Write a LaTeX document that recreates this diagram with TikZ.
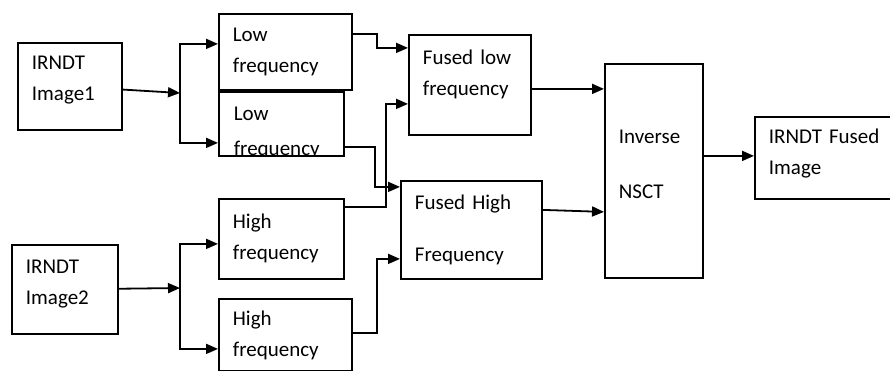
\documentclass[tikz,border=0pt]{standalone}
\usepackage{fontspec}
\setmainfont{Carlito}
\usepackage{tikz}
\usetikzlibrary{arrows.meta,positioning}
\tikzstyle{arrow}=[-{Triangle[length=12pt,width=10pt]},line width=1.8pt]
\tikzstyle{blk}=[rectangle,draw,line width=1.8pt,anchor=north west,align=left,
                 inner xsep=14pt,inner ysep=0pt,font=\fontsize{21}{31}\selectfont]

\begin{document}
\begin{tikzpicture}[x=1pt,y=-1pt]
      \useasboundingbox (0,0) rectangle (890,371);
      \clip (0,0) rectangle (890,371);
      \node[blk,minimum width=104pt,minimum height=87pt,text width=76pt,text depth=47pt] (img1) at (17,42) {IRNDT\\Image1};
      \node[blk,minimum width=106pt,minimum height=89pt,text width=78pt,text depth=45pt] (img2) at (11,244) {IRNDT\\Image2};
      \node[blk,minimum width=133pt,minimum height=76pt,text width=105pt] (low1) at (218,13) {Low\\frequency};
      \node[blk,minimum width=125pt,minimum height=64pt,
            path picture={\node[anchor=north west,align=left,inner xsep=14pt,inner ysep=14pt,
                                text width=97pt,font=\fontsize{21}{31}\selectfont]
                          at (path picture bounding box.north west) {Low\\[4pt]frequency};}] (low2) at (218,91) {};
      \node[blk,minimum width=125pt,minimum height=80pt,text width=97pt] (high1) at (218,198) {High\\frequency};
      \node[blk,minimum width=133pt,minimum height=72pt,text width=105pt] (high2) at (218,298) {High\\frequency};
      \node[blk,minimum width=122pt,minimum height=100pt,text width=94pt,text depth=55pt] (fl) at (408,34) {Fused low\\frequency};
      \node[blk,minimum width=141pt,minimum height=98pt,text width=113pt] (fh) at (400,180) {Fused High\\[21pt]Frequency};
      \node[blk,minimum width=98pt,minimum height=214pt,text width=70pt,text depth=69pt] (nsct) at (604,63) {Inverse\\[24pt]NSCT};
      \node[blk,minimum width=150pt,minimum height=82pt,text width=122pt,text depth=43pt] (out) at (754,116) {IRNDT Fused\\Image};

      \coordinate (j1) at (180,93);
      \coordinate (j2) at (180,288);

      \draw[arrow] (img1)--(j1);
      \draw[arrow] (j1) |- ([yshift=8pt]low1.west);
      \draw[arrow] (j1) |- ([yshift=-19pt]low2.west);
      \draw[arrow] (img2)--(j2);
      \draw[arrow] (j2) |- ([yshift=-5pt]high1.west);
      \draw[arrow] (j2) |- ([yshift=-14pt]high2.west);

      \draw[arrow] ([yshift=18pt]low1.east) -- ++(24,0) |- ([yshift=37pt]fl.west);
      \draw[arrow] ([yshift=32pt]high1.east) -- ++(41,0) |- ([yshift=-19pt]fl.west);
      \draw[arrow] ([yshift=-23pt]low2.east) -- ++(30,0) |- ([yshift=43pt]fh.west);
      \draw[arrow] ([yshift=2pt]high2.east) -- ++(24,0) |- ([yshift=-29pt]fh.west);

      \draw[arrow] ([yshift=-4pt]fl.east)--([yshift=82pt]nsct.west);
      \draw[arrow] ([yshift=20pt]fh.east)--([yshift=-41pt]nsct.west);
      \draw[arrow] ([yshift=15pt]nsct.east)--([yshift=2pt]out.west);
    \end{tikzpicture}
\end{document}
